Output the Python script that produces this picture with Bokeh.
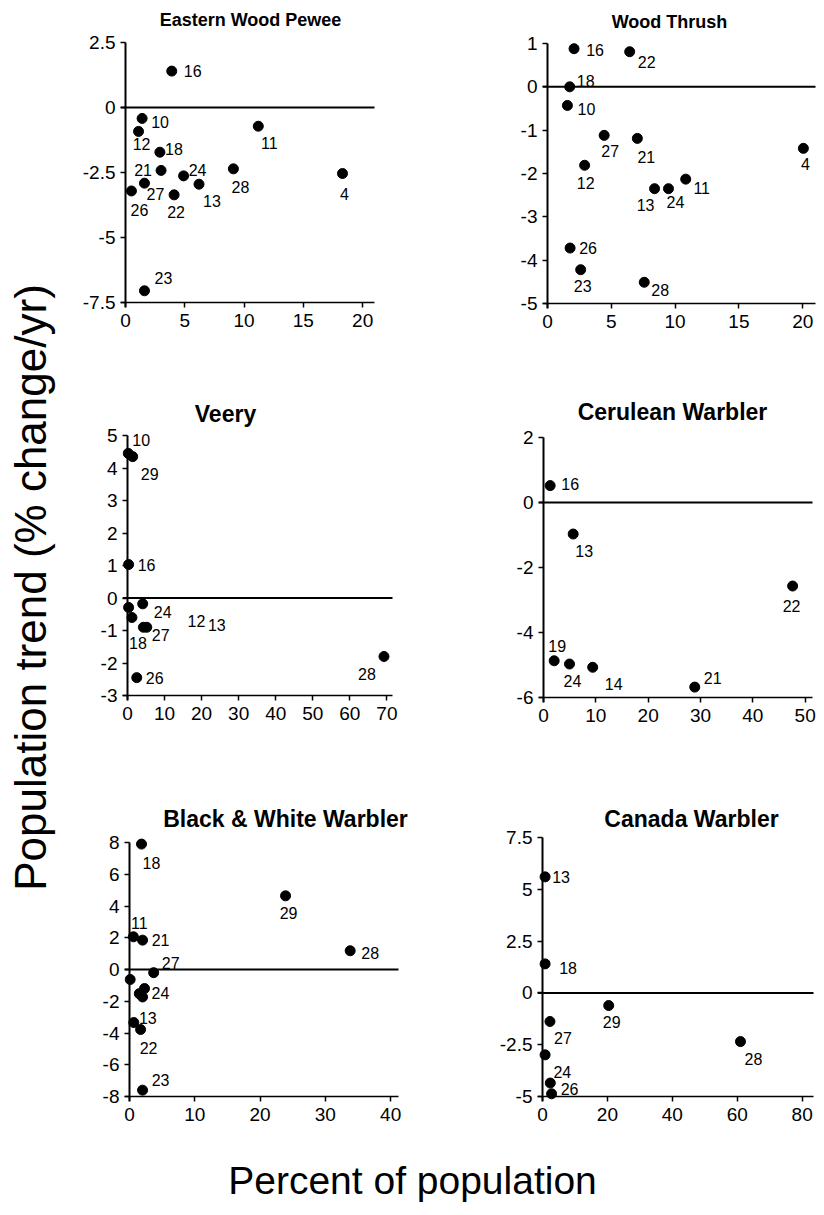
import math
from bokeh.plotting import figure
from bokeh.models import Range1d, Label, LabelSet, ColumnDataSource, FixedTicker
from bokeh.layouts import row, column
from bokeh.core.properties import value
from bokeh.embed import file_html
from bokeh.resources import INLINE

FONT = "Liberation Sans"

# ---------------- data ----------------
ewp_x = [3.9, 1.4, 1.1, 2.9, 3.0, 4.9, 1.6, 0.5, 4.1, 6.2, 9.1, 11.2, 18.3, 1.6]
ewp_y = [1.4, -0.42, -0.92, -1.72, -2.42, -2.63, -2.91, -3.21, -3.36, -2.95, -2.36, -0.72, -2.54, -7.05]
ewp_lab = ["16", "10", "12", "18", "21", "24", "27", "26", "22", "13", "28", "11", "4", "23"]

wt_x = [2.08, 6.44, 1.74, 1.56, 4.44, 7.04, 20.05, 2.91, 10.83, 8.39, 9.48, 1.77, 2.6, 7.58]
wt_y = [0.88, 0.81, 0.0, -0.43, -1.12, -1.19, -1.42, -1.81, -2.13, -2.35, -2.35, -3.72, -4.22, -4.51]
wt_lab = ["16", "22", "18", "10", "27", "21", "4", "12", "11", "13", "24", "26", "23", "28"]

v_x = [0.2, 1.4, 0.3, 0.3, 1.2, 4.1, 4.3, 5.2, 2.5, 69.2]
v_y = [4.45, 4.35, 1.03, -0.29, -0.6, -0.18, -0.9, -0.9, -2.45, -1.8]
v_lab = ["10", "29", "16", "", "18", "24", "", "27", "26", "28"]
v_extra_x = [18.6, 24.1]
v_extra_y = [-0.70, -0.83]
v_extra_lab = ["12", "13"]

cer_x = [1.27, 5.67, 47.6, 2.04, 4.97, 9.4, 28.9]
cer_y = [0.52, -0.97, -2.57, -4.87, -4.97, -5.07, -5.68]
cer_lab = ["16", "13", "22", "19", "24", "14", "21"]

bw_x = [1.84, 23.9, 0.6, 2.0, 33.8, 3.7, 0.1, 2.3, 1.5, 2.0, 0.66, 1.7, 2.0]
bw_y = [7.9, 4.64, 2.06, 1.85, 1.18, -0.2, -0.63, -1.2, -1.52, -1.73, -3.34, -3.78, -7.6]
bw_lab = ["18", "29", "11", "21", "28", "27", "", "24", "", "", "13", "22", "23"]

can_x = [0.8, 0.8, 20.4, 2.3, 61.0, 0.8, 2.4, 2.8]
can_y = [5.6, 1.4, -0.61, -1.38, -2.35, -2.99, -4.35, -4.87]
can_lab = ["13", "18", "29", "27", "28", "", "24", "26"]

ewp_xt = [0, 5, 10, 15, 20]
ewp_yt = [2.5, 0, -2.5, -5, -7.5]
wt_xt = [0, 5, 10, 15, 20]
wt_yt = [1, 0, -1, -2, -3, -4, -5]
v_xt = [0, 10, 20, 30, 40, 50, 60, 70]
v_yt = [5, 4, 3, 2, 1, 0, -1, -2, -3]
cer_xt = [0, 10, 20, 30, 40, 50]
cer_yt = [2, 0, -2, -4, -6]
bw_xt = [0, 10, 20, 30, 40]
bw_yt = [8, 6, 4, 2, 0, -2, -4, -6, -8]
can_xt = [0, 20, 40, 60, 80]
can_yt = [7.5, 5, 2.5, 0, -2.5, -5]

# ---------------- label offsets (px, right / up) ----------------
ewp_off = [(21, 0), (18, -4), (3, -13), (14, 3), (-18, 0), (14, 6), (11, -11), (8, -19),
           (2, -17), (13, -17), (7, -18), (11, -17), (2, -20), (19, 13)]
wt_off = [(21, -1), (17, -10), (16, 6), (19, -4), (6, -16), (9, -19), (2, -16), (1, -18),
          (16, -9), (-9, -16), (7, -13), (18, 0), (2, -16), (16, -8)]
v_off = [(13, 13), (17, -17), (18, 0), (0, 0), (6, -25), (20, -8), (0, 0), (14, -8), (18, 0), (-17, -17)]
cer_off = [(20, 2), (11, -17), (-1, -20), (3, 15), (3, -17), (21, -17), (18, 9)]
bw_off = [(10, -19), (3, -17), (6, 14), (18, 0), (20, -2), (17, 10), (0, 0), (16, -4), (0, 0), (0, 0),
          (14, 5), (8, -18), (18, 10)]
can_off = [(16, 0), (23, -4), (3, -16), (13, -17), (13, -17), (0, 0), (12, 11), (18, 5)]

P = 5
TICK_FS = "19px"
LAB_FS = "16px"


def fmt(v):
    return str(int(v)) if float(v).is_integer() else str(v)


def key(v):
    return int(v) if float(v).is_integer() else v


def make_panel(ox, oy, fw, fh, ax_px, xe_px, ytop_px, ybot_px, xe, ymax, ymin,
               xticks, yticks, xs, ys, labs, offs, title, tx, ty, title_fs, rpad, extra=None):
    frame_left = ax_px - P
    frame_right = xe_px + rpad
    frame_w = frame_right - frame_left
    frame_top = oy
    frame_bot = ybot_px + P
    frame_h = frame_bot - frame_top
    sx = (xe_px - ax_px) / xe
    sy = (ybot_px - ytop_px) / (ymax - ymin)
    x0 = -P / sx
    x1 = xe + rpad / sx
    y0 = ymin - P / sy
    y1 = ymax + (ytop_px - frame_top) / sy
    p = figure(frame_width=frame_w, frame_height=frame_h,
               min_border_left=frame_left - ox, min_border_right=ox + fw - frame_right,
               min_border_top=0, min_border_bottom=oy + fh - frame_bot,
               x_range=Range1d(x0, x1), y_range=Range1d(y0, y1),
               output_backend="svg", toolbar_location=None, tools="", title=None)
    p.grid.visible = False
    p.outline_line_color = None
    for ax, ticks in ((p.xaxis[0], xticks), (p.yaxis[0], yticks)):
        ax.ticker = FixedTicker(ticks=ticks)
        ax.major_label_overrides = {key(t): fmt(t) for t in ticks}
        ax.axis_line_color = None
        ax.major_tick_in = P
        ax.major_tick_out = 0
        ax.major_tick_line_width = 1.5
        ax.major_tick_line_color = "black"
        ax.minor_tick_line_color = None
        ax.major_label_text_font = FONT
        ax.major_label_text_font_size = TICK_FS
        ax.major_label_text_color = "black"
    p.xaxis.major_label_standoff = 6
    p.yaxis.major_label_standoff = 5
    # axis lines and zero line
    p.segment(x0=[0], y0=[y0], x1=[0], y1=[ymax], line_color="black", line_width=2)
    p.segment(x0=[x0], y0=[ymin], x1=[xe], y1=[ymin], line_color="black", line_width=1.5)
    p.segment(x0=[x0], y0=[0], x1=[xe], y1=[0], line_color="black", line_width=2)
    p.scatter(xs, ys, size=10, color="black", marker="circle")
    keep = [i for i, l in enumerate(labs) if l]
    src = ColumnDataSource(dict(x=[xs[i] for i in keep], y=[ys[i] for i in keep],
                                t=[labs[i] for i in keep],
                                dx=[offs[i][0] for i in keep], dy=[offs[i][1] for i in keep]))
    p.add_layout(LabelSet(x="x", y="y", text="t", x_offset="dx", y_offset="dy", source=src,
                          text_align="center", text_baseline="middle",
                          text_font=value(FONT), text_font_size=LAB_FS, text_color="black"))
    if extra:
        ex, ey, el = extra
        esrc = ColumnDataSource(dict(x=ex, y=ey, t=el))
        p.add_layout(LabelSet(x="x", y="y", text="t", source=esrc,
                              text_align="center", text_baseline="middle",
                              text_font=value(FONT), text_font_size=LAB_FS, text_color="black"))
    # title (inside the extended frame area)
    p.add_layout(Label(x=(tx - ax_px) / sx, y=ymax + (ytop_px - ty) / sy, text=title,
                       text_align="center", text_baseline="middle", text_font=FONT,
                       text_font_style="bold", text_font_size=title_fs, text_color="black"))
    return p


# column / row origins
LX, RX = 60, 470
LW, RW = 410, 354
R1, R2, R3 = 0, 370, 760
H1, H2, H3 = 370, 390, 370

p1 = make_panel(LX, R1, LW, H1, 125, 374, 42, 302, 21.0, 2.5, -7.5, ewp_xt, ewp_yt,
                ewp_x, ewp_y, ewp_lab, ewp_off, "Eastern Wood Pewee", 250, 19, "18px", 30)
p2 = make_panel(RX, R1, RW, H1, 547, 815, 43, 303, 21.0, 1, -5, wt_xt, wt_yt,
                wt_x, wt_y, wt_lab, wt_off, "Wood Thrush", 669, 21, "18px", 8)
p3 = make_panel(LX, R2, LW, H2, 127, 392, 435, 695, 71.5, 5, -3, v_xt, v_yt,
                v_x, v_y, v_lab, v_off, "Veery", 225, 413, "23px", 30,
                extra=(v_extra_x, v_extra_y, v_extra_lab))
p4 = make_panel(RX, R2, RW, H2, 543, 812, 437, 697, 51.4, 2, -6, cer_xt, cer_yt,
                cer_x, cer_y, cer_lab, cer_off, "Cerulean Warbler", 672, 411, "23px", 8)
p5 = make_panel(LX, R3, LW, H3, 129, 398, 842, 1096, 41.2, 8, -8, bw_xt, bw_yt,
                bw_x, bw_y, bw_lab, bw_off, "Black & White Warbler", 285, 818, "23px", 30)
p6 = make_panel(RX, R3, RW, H3, 542, 813, 837, 1096, 83.5, 7.5, -5, can_xt, can_yt,
                can_x, can_y, can_lab, can_off, "Canada Warbler", 691, 818, "23px", 8)


def blank(w, h):
    f = figure(width=w, height=h, x_range=Range1d(0, w), y_range=Range1d(0, h),
               min_border=0, output_backend="svg", toolbar_location=None, tools="",
               x_axis_location=None, y_axis_location=None, title=None)
    f.grid.visible = False
    f.outline_line_color = None
    return f


yl = blank(60, 1130)
yl.add_layout(Label(x=30, y=1130 - 587, text="Population trend (% change/yr)", angle=math.pi / 2,
                    text_align="center", text_baseline="middle", text_font=FONT,
                    text_font_size="44px", text_color="black"))
xl = blank(824, 85)
xl.add_layout(Label(x=412, y=85 - 50, text="Percent of population",
                    text_align="center", text_baseline="middle", text_font=FONT,
                    text_font_size="39px", text_color="black"))

grid = column(row(p1, p2), row(p3, p4), row(p5, p6))
layout = column(row(yl, grid), xl)

open("out.html", "w").write(file_html(layout, INLINE))
